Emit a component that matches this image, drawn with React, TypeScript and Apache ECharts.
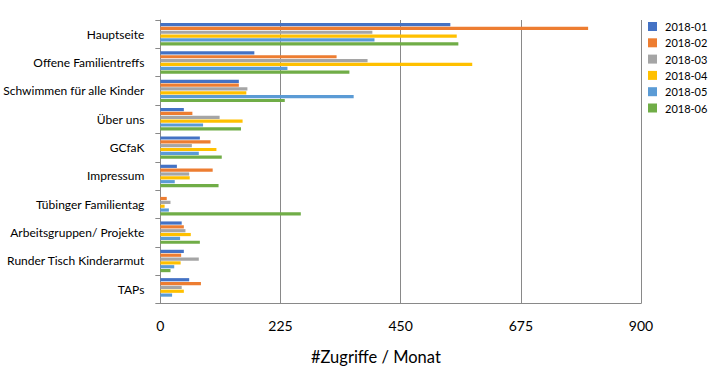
import React, { useEffect, useRef } from "react";
import * as echarts from "echarts";

const categories = [
  "Hauptseite",
  "Offene Familientreffs",
  "Schwimmen für alle Kinder",
  "Über uns",
  "GCfaK",
  "Impressum",
  "Tübinger Familientag",
  "Arbeitsgruppen/ Projekte",
  "Runder Tisch Kinderarmut",
  "TAPs",
];
const months = ["2018-01", "2018-02", "2018-03", "2018-04", "2018-05", "2018-06"];
const m201801 = [543, 176, 147, 44, 74, 31, 0, 40, 44, 54];
const m201802 = [801, 330, 147, 60, 94, 98, 12, 44, 39, 76];
const m201803 = [397, 388, 163, 111, 59, 54, 19, 47, 72, 40];
const m201804 = [555, 584, 161, 154, 105, 55, 8, 57, 38, 44];
const m201805 = [401, 238, 362, 80, 72, 27, 16, 37, 26, 22];
const m201806 = [558, 354, 233, 151, 115, 109, 263, 74, 19, 0];
const seriesValues = [m201801, m201802, m201803, m201804, m201805, m201806];
const colors = ["#4472C4", "#ED7D31", "#A5A5A5", "#FFC000", "#5B9BD5", "#70AD47"];
const xTicks = { min: 0, max: 900, interval: 225 };
const axisTitle = "#Zugriffe / Monat";

const FONT = "Lato, 'Noto Sans', sans-serif";

export default function App() {
  const ref = useRef<HTMLDivElement>(null);
  useEffect(() => {
    if (!ref.current) return;
    const chart = echarts.init(ref.current, undefined, { renderer: "svg" });
    chart.setOption({
      animation: false,
      color: colors,
      textStyle: { fontFamily: FONT },
      grid: { left: 160, right: 73, top: 20, bottom: 63.5, containLabel: false },
      legend: {
        orient: "vertical",
        left: 643,
        top: 16,
        itemWidth: 9,
        itemHeight: 9,
        itemGap: 5.3,
        icon: "rect",
        data: months,
        textStyle: { fontSize: 11, color: "#000", fontFamily: FONT, padding: [0, 0, 0, 3] },
      },
      xAxis: {
        type: "value",
        min: xTicks.min,
        max: xTicks.max,
        interval: xTicks.interval,
        axisLine: { show: true, lineStyle: { color: "#898989", width: 1 } },
        axisTick: { show: false },
        splitLine: { show: true, lineStyle: { color: "#898989", width: 1 } },
        axisLabel: { fontSize: 14, color: "#000", margin: 15, fontFamily: FONT },
      },
      yAxis: {
        type: "category",
        data: categories,
        inverse: true,
        axisLine: { show: true, lineStyle: { color: "#898989", width: 1 } },
        axisTick: { show: true, length: 5, lineStyle: { color: "#898989" } },
        axisLabel: { fontSize: 12, color: "#000", margin: 16, fontFamily: FONT },
      },
      graphic: [
        {
          type: "text",
          left: 311,
          top: 348,
          style: { text: axisTitle, fontSize: 16.5, fill: "#000", fontFamily: FONT },
        },
      ],
      series: months.map((m, i) => ({
        name: m,
        type: "bar",
        data: seriesValues[i],
        barWidth: 3.2,
        barGap: "20%",
        itemStyle: { color: colors[i] },
      })),
    });
    return () => chart.dispose();
  }, []);
  return <div ref={ref} style={{ width: 714, height: 367, position: "absolute", left: 0, top: 0 }} />;
}
